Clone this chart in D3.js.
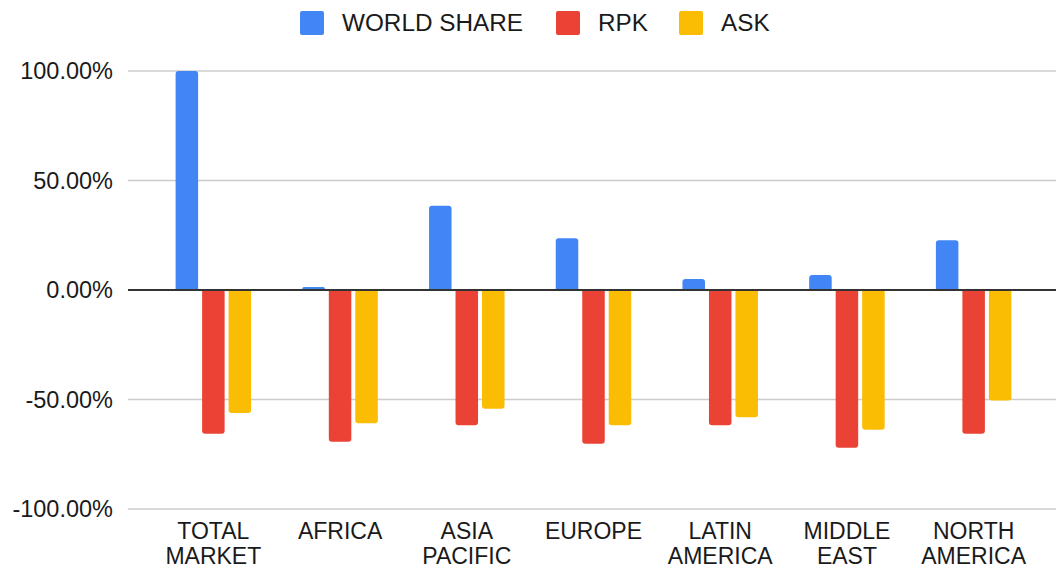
<!DOCTYPE html>
<html>
<head>
<meta charset="utf-8">
<script src="https://cdn.jsdelivr.net/npm/d3@7"></script>
<style>
  html, body { margin: 0; padding: 0; background: #fff; }
  svg { display: block; font-family: "Liberation Sans", Arial, sans-serif; }
</style>
</head>
<body>
<svg id="chart" width="1056" height="568"></svg>
<script>
// Regions (two-line axis labels)
const categories = [
  ["TOTAL", "MARKET"],
  ["AFRICA"],
  ["ASIA", "PACIFIC"],
  ["EUROPE"],
  ["LATIN", "AMERICA"],
  ["MIDDLE", "EAST"],
  ["NORTH", "AMERICA"]
];
const seriesNames = ["WORLD SHARE", "RPK", "ASK"];
const seriesColors = ["#4285F4", "#EA4335", "#FBBC04"];

// Percent values per region
const worldShare = [100, 1.4, 38.5, 23.6, 5.0, 6.8, 22.7];
const rpk = [-65.6, -69.3, -61.8, -70.2, -61.8, -72.0, -65.6];
const ask = [-56.2, -60.9, -54.2, -61.8, -58.1, -63.8, -50.5];

const yTicks = [-100, -50, 0, 50, 100];
const yTickLabels = ["-100.00%", "-50.00%", "0.00%", "50.00%", "100.00%"];

const seriesValues = [worldShare, rpk, ask];
const catKeys = categories.map(c => c.join(" "));

const svg = d3.select("#chart");

const y = d3.scaleLinear().domain([-100, 100]).range([509, 71]);
const x0 = d3.scaleBand().domain(catKeys).range([150, 1037]).paddingInner(0).paddingOuter(0);
const x1 = d3.scaleBand().domain(seriesNames).range([-37.75, 37.75]).paddingInner(0.15).paddingOuter(0);

const gridLeft = 128, gridRight = 1056;

// Horizontal gridlines
svg.append("g")
  .selectAll("line")
  .data(yTicks.filter(t => t !== 0))
  .join("line")
  .attr("x1", gridLeft).attr("x2", gridRight)
  .attr("y1", d => y(d)).attr("y2", d => y(d))
  .attr("stroke", "#cccccc").attr("stroke-width", 1.5);

// Y tick labels
svg.append("g")
  .selectAll("text")
  .data(yTicks)
  .join("text")
  .attr("x", 113)
  .attr("y", d => y(d) + 8)
  .attr("text-anchor", "end")
  .attr("font-size", 23.5)
  .attr("fill", "#1a1a1a")
  .text((d, i) => yTickLabels[i]);

// Bar with rounded corners on the far end only
function barPath(xl, w, v) {
  const y0 = y(0), y1 = y(v);
  const h = Math.abs(y1 - y0);
  const r = Math.min(3, h / 2, w / 2);
  if (v >= 0) {
    return `M${xl},${y0}V${y1 + r}Q${xl},${y1} ${xl + r},${y1}H${xl + w - r}Q${xl + w},${y1} ${xl + w},${y1 + r}V${y0}Z`;
  }
  return `M${xl},${y0}V${y1 - r}Q${xl},${y1} ${xl + r},${y1}H${xl + w - r}Q${xl + w},${y1} ${xl + w},${y1 - r}V${y0}Z`;
}

const rows = [];
catKeys.forEach((k, i) => {
  seriesNames.forEach((s, j) => {
    rows.push({ cat: k, series: s, value: seriesValues[j][i], color: seriesColors[j] });
  });
});

svg.append("g")
  .selectAll("path")
  .data(rows)
  .join("path")
  .attr("d", d => {
    const xl = x0(d.cat) + x0.bandwidth() / 2 + x1(d.series);
    return barPath(xl, x1.bandwidth(), d.value);
  })
  .attr("fill", d => d.color);

// Zero baseline
svg.append("line")
  .attr("x1", gridLeft).attr("x2", gridRight)
  .attr("y1", y(0)).attr("y2", y(0))
  .attr("stroke", "#333").attr("stroke-width", 2);

// Category labels
const catG = svg.append("g")
  .selectAll("text")
  .data(categories)
  .join("text")
  .attr("x", (d, i) => x0(catKeys[i]) + x0.bandwidth() / 2)
  .attr("y", 539)
  .attr("text-anchor", "middle")
  .attr("font-size", 23)
  .attr("fill", "#1a1a1a");
catG.selectAll("tspan")
  .data(d => d)
  .join("tspan")
  .attr("x", function () { return d3.select(this.parentNode).attr("x"); })
  .attr("dy", (d, i) => i === 0 ? 0 : 24.5)
  .text(d => d);

// Legend
const legendItems = [
  { name: seriesNames[0], color: seriesColors[0], x: 300 },
  { name: seriesNames[1], color: seriesColors[1], x: 556 },
  { name: seriesNames[2], color: seriesColors[2], x: 679 }
];
const lg = svg.append("g").selectAll("g").data(legendItems).join("g")
  .attr("transform", d => `translate(${d.x},0)`);
lg.append("rect")
  .attr("x", 0).attr("y", 11).attr("width", 24).attr("height", 24)
  .attr("rx", 2).attr("fill", d => d.color);
lg.append("text")
  .attr("x", 42).attr("y", 31)
  .attr("font-size", 24.3)
  .attr("fill", "#1a1a1a")
  .text(d => d.name);
</script>
</body>
</html>
